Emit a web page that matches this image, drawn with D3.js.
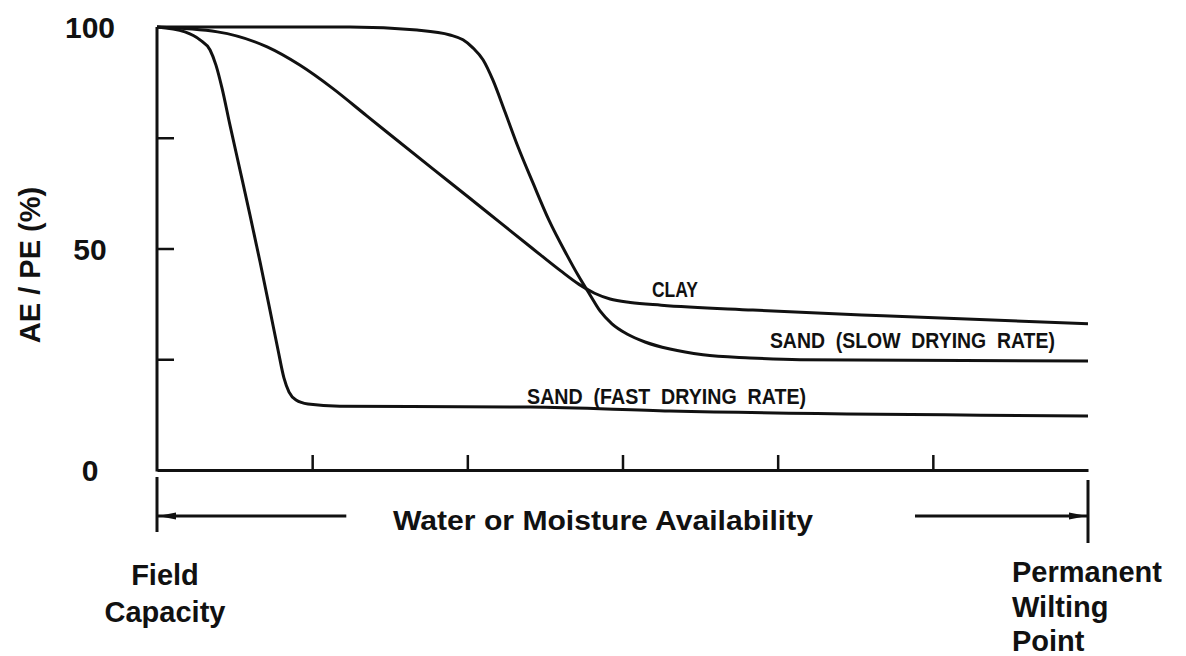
<!DOCTYPE html>
<html>
<head>
<style>
  body { margin: 0; background: #fff; }
  svg { display: block; }
  .lbl {
    font-family: "Liberation Sans", Arial, Helvetica, sans-serif;
    font-weight: bold;
    fill: #111;
  }
  .curve { fill: none; stroke: #111; stroke-width: 3px; stroke-linejoin: round; }
</style>
</head>
<body>
<script src="https://d3js.org/d3.v7.min.js"></script>
<script>
  var width = 1186, height = 656;

  // x = position between field capacity (0) and wilting point (6), y = AE/PE in %
  var xTicks = [1, 2, 3, 4, 5];
  var yLabels = [0, 50, 100];
  var yMinor = [25, 50, 75];

  var sandFast = [
    [0, 100], [0.18, 98.9], [0.277, 97.1], [0.342, 94.8], [0.380, 91.4], [0.419, 86.2],
    [0.470, 77.9], [0.535, 67.7], [0.599, 57.6], [0.664, 47.0], [0.728, 36.1], [0.780, 27.1],
    [0.818, 20.8], [0.851, 17.6], [0.896, 15.8], [0.973, 14.9], [1.179, 14.4], [2.404, 14.2],
    [3.306, 13.3], [6.0, 12.2]
  ];
  var clay = [
    [0, 100], [0.39, 98.9], [0.71, 95.5], [0.92, 91.4], [1.13, 86.2], [1.35, 80.0],
    [1.78, 67.9], [2.00, 61.8], [2.21, 55.9], [2.42, 50.0], [2.60, 45.0], [2.72, 41.9],
    [2.82, 39.9], [2.92, 38.6], [3.05, 37.8], [3.25, 37.2], [3.84, 36.1], [4.68, 34.8],
    [6.0, 33.0]
  ];
  var sandSlow = [
    [0, 100], [1.244, 100], [1.676, 99.3], [1.888, 98.2], [1.972, 97.1], [2.036, 95.3],
    [2.101, 92.6], [2.165, 88.0], [2.243, 80.8], [2.327, 72.9], [2.423, 64.8], [2.526, 56.4],
    [2.642, 48.5], [2.713, 44.0], [2.791, 39.5], [2.855, 35.9], [2.932, 33.0], [3.029, 30.7],
    [3.145, 28.9], [3.306, 27.3], [3.519, 26.0], [3.822, 25.3], [4.144, 24.9], [6.0, 24.6]
  ];

  var curveLabels = [
    { text: "CLAY", x: 3.19, y: 39.0, len: 46 },
    { text: "SAND  (SLOW  DRYING  RATE)", x: 3.95, y: 27.5, len: 285 },
    { text: "SAND  (FAST  DRYING  RATE)", x: 2.385, y: 15.0, len: 279 }
  ];

  var svg = d3.select("body")
    .append("svg")
    .attr("width", width)
    .attr("height", height);

  svg.append("rect").attr("width", width).attr("height", height).attr("fill", "#fff");

  var x = d3.scaleLinear().domain([0, 6]).range([157, 1088]);
  var y = d3.scaleLinear().domain([0, 100]).range([470, 27]);

  // y axis: numbers only, placed well to the left
  var yAxis = svg.append("g")
    .attr("transform", "translate(" + x(0) + ",0)")
    .call(d3.axisLeft(y).tickValues(yLabels).tickSize(0));
  yAxis.select(".domain").remove();
  yAxis.selectAll("text")
    .attr("class", "lbl")
    .attr("x", 90 - x(0))
    .attr("dy", "0.35em")
    .attr("text-anchor", "middle")
    .style("font-size", "30px");

  // short inward ticks on the y axis
  var yTickAxis = svg.append("g")
    .attr("transform", "translate(" + x(0) + ",0)")
    .call(d3.axisRight(y).tickValues(yMinor).tickSize(17).tickFormat(""));
  yTickAxis.select(".domain").remove();
  yTickAxis.selectAll("line").attr("stroke", "#111").attr("stroke-width", 2.5);

  // x axis with upward ticks
  var xAxis = svg.append("g")
    .attr("transform", "translate(0," + y(0) + ")")
    .call(d3.axisBottom(x).tickValues(xTicks).tickSizeInner(-15).tickSizeOuter(0).tickFormat(""));
  xAxis.select(".domain").attr("stroke", "#111").attr("stroke-width", 3);
  xAxis.selectAll("line").attr("stroke", "#111").attr("stroke-width", 2.5);

  svg.append("line")
    .attr("x1", x(0)).attr("x2", x(0))
    .attr("y1", y(100)).attr("y2", y(0) + 1.5)
    .attr("stroke", "#111").attr("stroke-width", 3);

  var line = d3.line()
    .x(function(d) { return x(d[0]); })
    .y(function(d) { return y(d[1]); })
    .curve(d3.curveMonotoneX);

  [sandFast, clay, sandSlow].forEach(function(s) {
    svg.append("path").attr("class", "curve").attr("d", line(s));
  });

  svg.selectAll(".curveLabel")
    .data(curveLabels)
    .enter().append("text")
    .attr("class", "lbl curveLabel")
    .attr("x", function(d) { return x(d.x); })
    .attr("y", function(d) { return y(d.y); })
    .attr("textLength", function(d) { return d.len; })
    .attr("lengthAdjust", "spacingAndGlyphs")
    .style("font-size", "22px")
    .style("white-space", "pre")
    .text(function(d) { return d.text; });

  // range bracket under the axis
  var defs = svg.append("defs");
  defs.append("marker")
    .attr("id", "head")
    .attr("viewBox", "0 0 18 10")
    .attr("refX", 18).attr("refY", 5)
    .attr("markerWidth", 18).attr("markerHeight", 10)
    .attr("markerUnits", "userSpaceOnUse")
    .attr("orient", "auto-start-reverse")
    .append("path").attr("d", "M0,1.5L18,5L0,8.5Z").attr("fill", "#111");

  var bracketY = 516;
  svg.append("line")
    .attr("x1", x(0)).attr("x2", x(0)).attr("y1", 477).attr("y2", 532)
    .attr("stroke", "#111").attr("stroke-width", 3);
  svg.append("line")
    .attr("x1", x(6)).attr("x2", x(6)).attr("y1", 480).attr("y2", 543)
    .attr("stroke", "#111").attr("stroke-width", 3);
  svg.append("line")
    .attr("x1", x(1.22)).attr("x2", x(0) + 1)
    .attr("y1", bracketY).attr("y2", bracketY)
    .attr("stroke", "#111").attr("stroke-width", 3)
    .attr("marker-end", "url(#head)");
  svg.append("line")
    .attr("x1", x(4.885)).attr("x2", x(6) - 1)
    .attr("y1", bracketY).attr("y2", bracketY)
    .attr("stroke", "#111").attr("stroke-width", 3)
    .attr("marker-end", "url(#head)");

  svg.append("text")
    .attr("class", "lbl")
    .attr("x", 393).attr("y", 530)
    .attr("textLength", 420)
    .attr("lengthAdjust", "spacingAndGlyphs")
    .style("font-size", "28px")
    .text("Water or Moisture Availability");

  var left = svg.append("text").attr("class", "lbl").style("font-size", "29px").attr("text-anchor", "middle");
  left.append("tspan").attr("x", 165).attr("y", 585).text("Field");
  left.append("tspan").attr("x", 165).attr("y", 622).text("Capacity");

  var right = svg.append("text").attr("class", "lbl").style("font-size", "29px");
  right.append("tspan").attr("x", 1012).attr("y", 582).text("Permanent");
  right.append("tspan").attr("x", 1012).attr("y", 617).text("Wilting");
  right.append("tspan").attr("x", 1012).attr("y", 651).text("Point");

  svg.append("text")
    .attr("class", "lbl")
    .attr("transform", "translate(40,265) rotate(-90)")
    .attr("text-anchor", "middle")
    .style("font-size", "29px")
    .text("AE / PE (%)");
</script>
</body>
</html>
